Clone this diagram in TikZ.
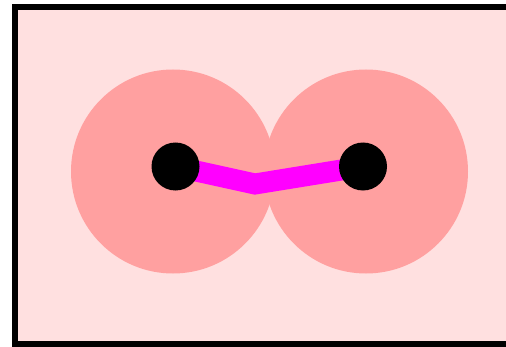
\documentclass[tikz,border=0pt]{standalone}
\usepackage{tikz}
\usetikzlibrary{positioning}

\definecolor{cellbg}{RGB}{255,224,224}
\definecolor{zonefill}{RGB}{255,160,160}
\definecolor{bondpink}{RGB}{255,0,255}

\pgfdeclarelayer{backlayer}
\pgfdeclarelayer{bondlayer}
\pgfsetlayers{backlayer,bondlayer,main}

\begin{document}
\begin{tikzpicture}[x=1pt,y=1pt,
    zone/.style={circle, fill=zonefill, inner sep=0pt, minimum size=204pt},
    atom/.style={circle, fill=black, inner sep=0pt, minimum size=48pt},
    bond/.style={bondpink, line width=21pt, line join=miter}]
    \useasboundingbox (0,0) rectangle (506,346);

    % Atoms
    \node[atom] (atomL) at (175.5,179.5) {};
    \node[atom] (atomR) at (363,179.5) {};
    \coordinate (kink) at (255,162);

    \begin{pgfonlayer}{backlayer}
        % Cell
        \fill[cellbg] (15,2.5) rectangle (520,339);
        \draw[line width=6pt] (520,2.5) -- (15,2.5) -- (15,339) -- (520,339);
        % Zones
        \node[zone] (zoneL) at (173,174.5) {};
        \node[zone] (zoneR) at (366,174.5) {};
    \end{pgfonlayer}

    % Bond
    \begin{pgfonlayer}{bondlayer}
        \draw[bond] (atomL.center) -- (kink) -- (atomR.center);
    \end{pgfonlayer}
\end{tikzpicture}
\end{document}
